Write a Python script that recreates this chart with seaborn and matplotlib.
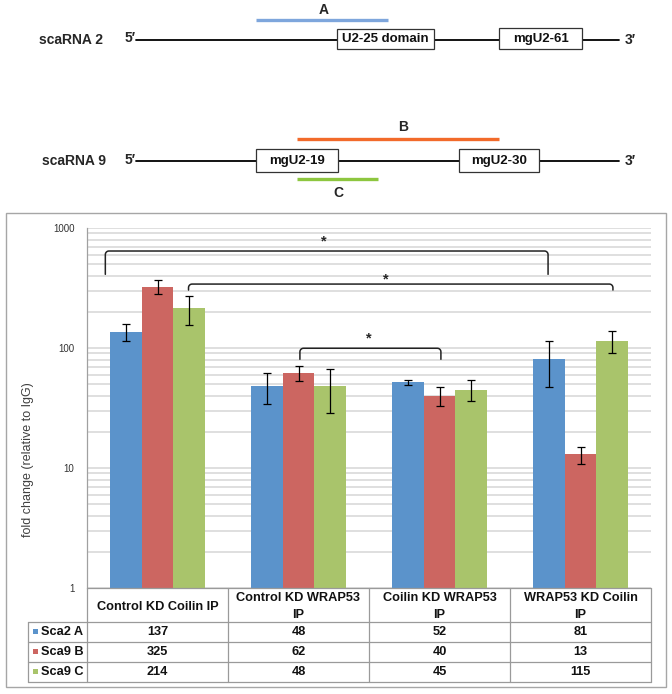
import matplotlib
matplotlib.use('Agg')
import matplotlib.pyplot as plt
from matplotlib.patches import Rectangle
from matplotlib.ticker import LogLocator, NullFormatter
import numpy as np
import pandas as pd
import seaborn as sns

sns.set_theme(style='white')
plt.rcParams['font.family'] = ['Liberation Sans', 'DejaVu Sans']

# dados
condicoes = ['Control KD Coilin IP', 'Control KD WRAP53 IP',
             'Coilin KD WRAP53 IP', 'WRAP53 KD Coilin IP']
rotulos_tabela = ['Control KD Coilin IP', 'Control KD WRAP53\nIP',
                  'Coilin KD WRAP53\nIP', 'WRAP53 KD Coilin\nIP']
sondas = ['Sca2 A', 'Sca9 B', 'Sca9 C']
sca2_a = [137, 48, 52, 81]
sca9_b = [325, 62, 40, 13]
sca9_c = [214, 48, 45, 115]
erro_sca2_a = [23, 14, 2.5, 34]
erro_sca9_b = [43, 9, 7, 2.1]
erro_sca9_c = [58, 19, 9, 24]
cores = ['#5b93cb', '#cc6661', '#a9c46b']

valores = [sca2_a, sca9_b, sca9_c]
erros = [erro_sca2_a, erro_sca9_b, erro_sca9_c]
df = pd.DataFrame({
    'condicao': condicoes * 3,
    'sonda': [s for s in sondas for _ in condicoes],
    'fold': sca2_a + sca9_b + sca9_c,
})

W, H = 672, 694
fig = plt.figure(figsize=(W / 100, H / 100), dpi=100)

# posicao do grafico em pixels
ax_l, ax_r, ax_t, ax_b = 87, 651, 228, 588
ax = fig.add_axes([ax_l / W, (H - ax_b) / H, (ax_r - ax_l) / W, (ax_b - ax_t) / H])

sns.barplot(data=df, x='condicao', y='fold', hue='sonda', order=condicoes,
            hue_order=sondas, palette=cores, width=0.67, saturation=1,
            errorbar=None, legend=False, ax=ax, linewidth=0, zorder=3)
ax.set_yscale('log')
ax.set_ylim(1, 1000)
ax.set_xlim(-0.5, 3.5)

for cont, err in zip(ax.containers, erros):
    xs = [p.get_x() + p.get_width() / 2 for p in cont]
    ys = [p.get_height() for p in cont]
    ax.errorbar(xs, ys, yerr=err, fmt='none', ecolor='black', elinewidth=0.9,
                capsize=2.6, capthick=0.9, zorder=4)

ax.set_yticks([1, 10, 100, 1000])
ax.set_yticklabels(['1', '10', '100', '1000'])
ax.yaxis.set_minor_locator(LogLocator(base=10, subs=np.arange(2, 10)))
ax.yaxis.set_minor_formatter(NullFormatter())
ax.tick_params(axis='y', which='both', length=0, pad=9, labelsize=7, labelcolor='#333333')
ax.set_xticks([])
ax.set_xlabel('')
ax.set_ylabel('')
ax.grid(True, axis='y', which='both', color='#d9d9d9', linewidth=1.2, zorder=0)
for s in ['top', 'right', 'bottom']:
    ax.spines[s].set_visible(False)
ax.spines['left'].set_color('#a0a0a0')
ax.spines['left'].set_linewidth(0.9)
ax.set_facecolor('none')


def colchete(x0, x1, y_topo, y_fim, x_ast, y_ast):
    rx, ry = 0.025, 0.03
    lt, lf = np.log10(y_topo), np.log10(y_fim)
    t1 = np.linspace(np.pi, np.pi / 2, 8)
    t2 = np.linspace(np.pi / 2, 0, 8)
    xs = np.concatenate([[x0], x0 + rx + rx * np.cos(t1), x1 - rx + rx * np.cos(t2), [x1]])
    ls = np.concatenate([[lf], lt - ry + ry * np.sin(t1), lt - ry + ry * np.sin(t2), [lf]])
    ax.plot(xs, 10 ** ls, color='#222222', linewidth=1.1, zorder=5)
    ax.text(x_ast, y_ast, '*', ha='center', va='center', fontsize=10.5,
            fontweight='bold', zorder=5)


colchete(-0.37, 2.77, 643, 411, 1.18, 775)
colchete(0.22, 3.23, 341, 304, 1.62, 373)
colchete(1.01, 2.01, 99.5, 80.5, 1.50, 120)

# camada em pixels para esquema, tabela e moldura
ov = fig.add_axes([0, 0, 1, 1])
ov.set_xlim(0, W)
ov.set_ylim(H, 0)
ov.axis('off')
ov.patch.set_alpha(0)

# moldura do grafico
ov.add_patch(Rectangle((5.5, 213), 660, 474, fill=False, edgecolor='#a6a6a6', linewidth=1))

# rotulo do eixo y
ov.text(28, 460, 'fold change (relative to IgG)', rotation=90, ha='center', va='center',
        fontsize=9, color='#404040')

# tabela
cinza = '#9a9a9a'
col_w = (ax_r - ax_l) / 4
top_h, lin_h = 588, 622
linhas_y = [622, 642, 662, 682]
ov.plot([ax_l, ax_r], [top_h, top_h], color=cinza, lw=0.9)
for y in linhas_y:
    ov.plot([27.5, ax_r], [y, y], color=cinza, lw=0.9)
ov.plot([27.5, 27.5], [lin_h, linhas_y[-1]], color=cinza, lw=0.9)
for i in range(5):
    x = ax_l + i * col_w
    ov.plot([x, x], [top_h, linhas_y[-1]], color=cinza, lw=0.9)
for i, rot in enumerate(rotulos_tabela):
    ov.text(ax_l + (i + 0.5) * col_w, (top_h + lin_h) / 2 + 1.5, rot, ha='center', va='center',
            fontsize=9.2, fontweight='bold', linespacing=1.45, color='#111111')
for j, (sonda, vals, cor) in enumerate(zip(sondas, valores, cores)):
    yc = (linhas_y[j] + linhas_y[j + 1]) / 2
    ov.add_patch(Rectangle((32.5, yc - 3.5), 5.5, 5.5, facecolor=cor, edgecolor='none'))
    ov.text(41, yc, sonda, ha='left', va='center', fontsize=9.2, fontweight='bold', color='#111111')
    for i, v in enumerate(vals):
        ov.text(ax_l + (i + 0.5) * col_w, yc, str(v), ha='center', va='center',
                fontsize=9.2, fontweight='bold', color='#111111')

# esquema dos scaRNAs
def caixa(x0, x1, y0, y1, texto):
    ov.add_patch(Rectangle((x0, y0), x1 - x0, y1 - y0, facecolor='white',
                           edgecolor='#333333', linewidth=0.9, zorder=3))
    ov.text((x0 + x1) / 2, (y0 + y1) / 2, texto, ha='center', va='center',
            fontsize=9.5, fontweight='bold', zorder=4, color='#111111')

# scaRNA 2
ov.text(71, 40, 'scaRNA 2', ha='center', va='center', fontsize=10, fontweight='bold')
ov.text(130, 38, '5\u2032', ha='center', va='center', fontsize=10, fontweight='bold')
ov.text(630, 40, '3\u2032', ha='center', va='center', fontsize=10, fontweight='bold')
ov.plot([136, 619], [40, 40], color='black', lw=1.3, zorder=2)
caixa(337, 434, 29, 49, 'U2-25 domain')
caixa(499, 582, 28, 49, 'mgU2-61')
ov.plot([256, 388], [20, 20], color='#7ea6dc', lw=2.4, solid_capstyle='butt')
ov.text(324, 10, 'A', ha='center', va='center', fontsize=10, fontweight='bold')

# scaRNA 9
ov.text(74, 161, 'scaRNA 9', ha='center', va='center', fontsize=10, fontweight='bold')
ov.text(130, 160, '5\u2032', ha='center', va='center', fontsize=10, fontweight='bold')
ov.text(630, 161, '3\u2032', ha='center', va='center', fontsize=10, fontweight='bold')
ov.plot([136, 619], [161, 161], color='black', lw=1.3, zorder=2)
caixa(256, 338, 149, 172, 'mgU2-19')
caixa(459, 539, 149, 172, 'mgU2-30')
ov.plot([297, 499], [139, 139], color='#f26a2a', lw=2.4, solid_capstyle='butt')
ov.text(403, 127, 'B', ha='center', va='center', fontsize=10, fontweight='bold')
ov.plot([297, 378], [179, 179], color='#8dc63f', lw=2.4, solid_capstyle='butt')
ov.text(338, 193, 'C', ha='center', va='center', fontsize=10, fontweight='bold')

plt.savefig('out.png', dpi=100)
plt.close()
